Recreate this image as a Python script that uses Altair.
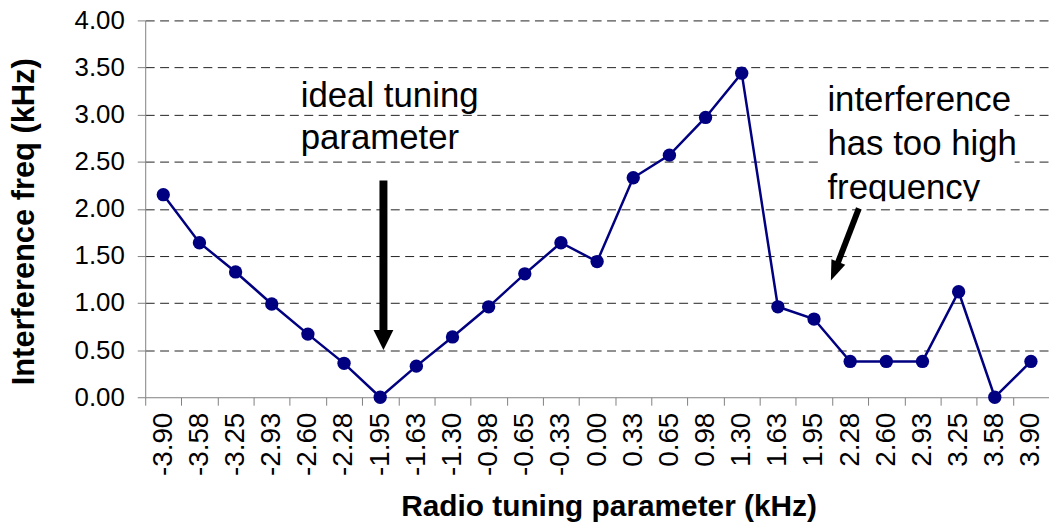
import altair as alt
import pandas as pd

# ---- data ----
labels = ["-3.90", "-3.58", "-3.25", "-2.93", "-2.60", "-2.28", "-1.95", "-1.63",
          "-1.30", "-0.98", "-0.65", "-0.33", "0.00", "0.33", "0.65", "0.98",
          "1.30", "1.63", "1.95", "2.28", "2.60", "2.93", "3.25", "3.58", "3.90"]
values = [2.15, 1.64, 1.33, 0.99, 0.67, 0.36, 0.00, 0.33, 0.64, 0.96, 1.31, 1.64,
          1.44, 2.33, 2.57, 2.97, 3.44, 0.96, 0.83, 0.38, 0.38, 0.38, 1.12, 0.00, 0.38]
y_ticks = [0.0, 0.5, 1.0, 1.5, 2.0, 2.5, 3.0, 3.5, 4.0]

note1_text = ["ideal tuning", "parameter"]
note2_text = ["interference", "has too high", "frequency"]

# annotation anchors in data coordinates (x = category index, y = kHz)
note1_pos = (3.80, 3.08)
note2_pos = (18.37, 3.04)
note2_box = (18.2, 23.55, 3.30, 2.08)
note2_clip = (18.2, 23.55, 2.08, 2.02)
arrow1_shaft = (6.09, 2.30, 6.09, 0.62)
arrow1_head = (6.09, 0.607)
arrow2_shaft = (19.24, 2.005, 18.57, 1.338)
arrow2_head = (18.57, 1.338)

N = len(labels)
W, H = 909, 379
step = W / N
navy = "#000080"
gray = "#808080"

df = pd.DataFrame({"idx": list(range(N)), "label": labels, "value": values})

label_expr = "[" + ",".join("'%s'" % l for l in labels) + "][round(datum.value)]"

xscale = alt.Scale(domain=[-0.5, N - 0.5], nice=False, zero=False)
yscale = alt.Scale(domain=[0, 4], nice=False, zero=True)

x_axis = alt.Axis(
    values=list(range(N)), tickCount=N, labelExpr=label_expr, labelAngle=270,
    labelFontSize=28, labelPadding=7, labelColor="black",
    labelFlush=False, labelOverlap=False, labelBound=False,
    tickSize=8, tickColor=gray, tickOffset=-step / 2, labelOffset=step / 2,
    domainColor=gray, grid=False,
    title="Radio tuning parameter (kHz)", titleFontSize=30, titleFontWeight="bold",
    titleColor="black", titleX=466, titleY=119, titleBaseline="alphabetic",
)
y_axis = alt.Axis(
    values=y_ticks, format=".2f", labelFontSize=26, labelPadding=13, labelColor="black",
    labelOverlap=False,
    tickSize=8, tickColor=gray, domainColor=gray,
    grid=True, gridDash=[9, 5.5],
    gridColor=alt.condition("datum.value == 0", alt.value("transparent"), alt.value("#222222")),
    title="Interference freq (kHz)", titleFontSize=31, titleFontWeight="bold",
    titleColor="black", titleX=-112, titleY=202, titleBaseline="alphabetic",
)


def X(field):
    return alt.X(field, type="quantitative", scale=xscale, axis=x_axis)


def Y(field):
    return alt.Y(field, type="quantitative", scale=yscale, axis=y_axis)


base = alt.Chart(df)

line = base.mark_line(color=navy, strokeWidth=2.5).encode(x=X("idx"), y=Y("value"))
pts = base.mark_circle(color=navy, size=180, opacity=1).encode(x=X("idx"), y=Y("value"))


def rect_layer(b):
    d = pd.DataFrame({"x": [b[0]], "x2": [b[1]], "y": [b[2]], "y2": [b[3]]})
    return alt.Chart(d).mark_rect(color="white", opacity=1).encode(
        x=X("x"), x2="x2:Q", y=Y("y"), y2="y2:Q",
    )


def text_layer(pos, lines, lh):
    d = pd.DataFrame({"x": [pos[0]], "y": [pos[1]], "t": ["\n".join(lines)]})
    return alt.Chart(d).mark_text(
        align="left", baseline="alphabetic", fontSize=35, lineHeight=lh,
        lineBreak="\n", color="black", font="Liberation Sans",
    ).encode(x=X("x"), y=Y("y"), text="t:N")


def shaft_layer(s, w):
    d = pd.DataFrame({"x": [s[0]], "y": [s[1]], "x2": [s[2]], "y2": [s[3]]})
    return alt.Chart(d).mark_rule(color="black", strokeWidth=w, strokeCap="butt").encode(
        x=X("x"), y=Y("y"), x2="x2:Q", y2="y2:Q",
    )


def head_layer(p, shape, angle):
    d = pd.DataFrame({"x": [p[0]], "y": [p[1]]})
    return alt.Chart(d).mark_point(
        shape=shape, filled=True, size=400, angle=angle, color="black", opacity=1,
        strokeWidth=0,
    ).encode(x=X("x"), y=Y("y"))


chart = alt.layer(
    line,
    rect_layer(note2_box),
    pts,
    text_layer(note1_pos, note1_text, 42),
    text_layer(note2_pos, note2_text, 44.5),
    rect_layer(note2_clip),
    shaft_layer(arrow1_shaft, 8),
    head_layer(arrow1_head, "M -1 -1 L 1 -1 L 0 1 Z", 0),
    shaft_layer(arrow2_shaft, 6),
    head_layer(arrow2_head, "M -0.75 -1 L 0.75 -1 L 0 1 Z", 22),
).properties(
    width=W, height=H,
    autosize=alt.AutoSizeParams(type="none"),
    padding={"left": 138, "top": 11, "right": 0, "bottom": 125},
).configure(font="Liberation Sans").configure_view(stroke=None)

chart.save("out.html", embed_options={"renderer": "svg", "actions": False})
